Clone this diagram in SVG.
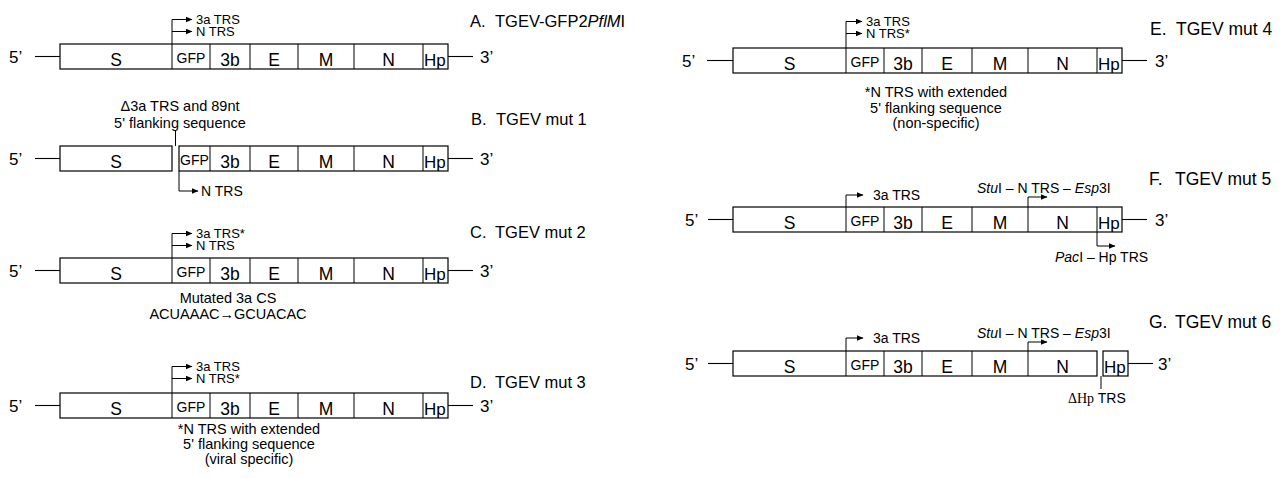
<svg xmlns="http://www.w3.org/2000/svg" width="1281" height="478" viewBox="0 0 1281 478">
<defs>
<marker id="ah" markerUnits="userSpaceOnUse" markerWidth="7" markerHeight="6" refX="6.5" refY="3" orient="auto">
<path d="M0,0 L7,3 L0,6 z" fill="#000"/>
</marker>
<style>
.box{fill:none;stroke:#000;stroke-width:1.2}
.dv{stroke:#000;stroke-width:1}
.ln{stroke:#000;stroke-width:1.1}
.t{font-family:"Liberation Sans",Arial,Helvetica,sans-serif;fill:#000}
.lb{font-size:17.5px;text-anchor:middle}
.gf{font-size:14px;text-anchor:middle}
.hp{font-size:17px}
.en{font-size:17px}
.sm{font-size:14px}
.st{font-size:13px}
.fn{font-size:14.5px}
.mid{text-anchor:middle}
.ttl{font-size:16.5px}
.ttr{font-size:17.5px}
.arr{fill:none;stroke:#000;stroke-width:1;marker-end:url(#ah)}
.it{font-style:italic}
.sf{font-family:"Liberation Serif","Times New Roman",serif}
</style>
</defs>
<rect width="1281" height="478" fill="#fff"/>

<!-- Panel A -->
<g id="panelA">
<text class="t en" x="9" y="63">5’</text>
<line class="ln" x1="35" y1="56.5" x2="60" y2="56.5"/>
<rect class="box" x="60" y="44" width="388" height="25"/>
<path class="dv" d="M172,44V69M210,44V69M250,44V69M298,44V69M354,44V69M423,44V69"/>
<text class="t lb" x="116" y="66">S</text>
<text class="t gf" x="191" y="63">GFP</text>
<text class="t lb" x="230" y="66">3b</text>
<text class="t lb" x="274" y="66">E</text>
<text class="t lb" x="326" y="66">M</text>
<text class="t lb" x="388.5" y="66">N</text>
<text class="t hp" x="424" y="66">Hp</text>
<line class="ln" x1="448" y1="56.5" x2="473" y2="56.5"/>
<text class="t en" x="480" y="63">3’</text>
<text class="t ttl" x="470" y="27">A.<tspan x="495">TGEV-GFP2</tspan><tspan class="it">PflM</tspan>I</text>
<text class="t st" x="196" y="24">3a TRS</text>
<text class="t st" x="196" y="36">N TRS</text>
</g>

<!-- Panel B -->
<g id="panelB">
<text class="t en" x="9" y="165">5’</text>
<line class="ln" x1="35" y1="158.5" x2="60" y2="158.5"/>
<rect class="box" x="60" y="146" width="112" height="25"/>
<rect class="box" x="179" y="146" width="269" height="25"/>
<path class="dv" d="M210,146V171M250,146V171M298,146V171M354,146V171M423,146V171"/>
<text class="t lb" x="116" y="168">S</text>
<text class="t gf" x="194.5" y="165">GFP</text>
<text class="t lb" x="230" y="168">3b</text>
<text class="t lb" x="274" y="168">E</text>
<text class="t lb" x="326" y="168">M</text>
<text class="t lb" x="388.5" y="168">N</text>
<text class="t hp" x="424" y="168">Hp</text>
<line class="ln" x1="448" y1="158.5" x2="473" y2="158.5"/>
<text class="t en" x="480" y="165">3’</text>
<text class="t ttl" x="471" y="125">B.<tspan x="496">TGEV mut 1</tspan></text>
<text class="t fn mid" x="180" y="111">Δ3a TRS and 89nt</text>
<text class="t fn mid" x="180" y="128">5' flanking sequence</text>
<line class="dv" x1="175.5" y1="131" x2="175.5" y2="146"/>
<text class="t sm" x="201" y="196">N TRS</text>
</g>

<!-- Panel C -->
<g id="panelC">
<text class="t en" x="9" y="277">5’</text>
<line class="ln" x1="35" y1="270.5" x2="60" y2="270.5"/>
<rect class="box" x="60" y="258" width="388" height="25"/>
<path class="dv" d="M172,258V283M210,258V283M250,258V283M298,258V283M354,258V283M423,258V283"/>
<text class="t lb" x="116" y="280">S</text>
<text class="t gf" x="191" y="277">GFP</text>
<text class="t lb" x="230" y="280">3b</text>
<text class="t lb" x="274" y="280">E</text>
<text class="t lb" x="326" y="280">M</text>
<text class="t lb" x="388.5" y="280">N</text>
<text class="t hp" x="424" y="280">Hp</text>
<line class="ln" x1="448" y1="270.5" x2="473" y2="270.5"/>
<text class="t en" x="480" y="277">3’</text>
<text class="t ttl" x="470" y="238">C.<tspan x="495">TGEV mut 2</tspan></text>
<text class="t st" x="196" y="238">3a TRS*</text>
<text class="t st" x="196" y="250">N TRS</text>
<text class="t fn mid" x="228" y="303">Mutated 3a CS</text>
<text class="t fn mid" x="228" y="319">ACUAAAC→GCUACAC</text>
</g>

<!-- Panel D -->
<g id="panelD">
<text class="t en" x="9" y="412">5’</text>
<line class="ln" x1="35" y1="405.5" x2="60" y2="405.5"/>
<rect class="box" x="60" y="393" width="388" height="25"/>
<path class="dv" d="M172,393V418M210,393V418M250,393V418M298,393V418M354,393V418M423,393V418"/>
<text class="t lb" x="116" y="415">S</text>
<text class="t gf" x="191" y="412">GFP</text>
<text class="t lb" x="230" y="415">3b</text>
<text class="t lb" x="274" y="415">E</text>
<text class="t lb" x="326" y="415">M</text>
<text class="t lb" x="388.5" y="415">N</text>
<text class="t hp" x="424" y="415">Hp</text>
<line class="ln" x1="448" y1="405.5" x2="473" y2="405.5"/>
<text class="t en" x="480" y="412">3’</text>
<text class="t ttl" x="470" y="388">D.<tspan x="495">TGEV mut 3</tspan></text>
<text class="t st" x="196" y="371">3a TRS</text>
<text class="t st" x="196" y="383">N TRS*</text>
<text class="t fn mid" x="249" y="434">*N TRS with extended</text>
<text class="t fn mid" x="249" y="449">5' flanking sequence</text>
<text class="t fn mid" x="249" y="464">(viral specific)</text>
</g>

<!-- Panel E -->
<g id="panelE">
<text class="t en" x="682" y="67">5’</text>
<line class="ln" x1="707" y1="60.5" x2="733" y2="60.5"/>
<rect class="box" x="733" y="48" width="389" height="25"/>
<path class="dv" d="M846,48V73M884,48V73M922,48V73M972,48V73M1028,48V73M1097,48V73"/>
<text class="t lb" x="789.5" y="70">S</text>
<text class="t gf" x="865" y="67">GFP</text>
<text class="t lb" x="903" y="70">3b</text>
<text class="t lb" x="947" y="70">E</text>
<text class="t lb" x="1000" y="70">M</text>
<text class="t lb" x="1062.5" y="70">N</text>
<text class="t hp" x="1098" y="70">Hp</text>
<line class="ln" x1="1122" y1="60.5" x2="1147" y2="60.5"/>
<text class="t en" x="1155" y="67">3’</text>
<text class="t ttr" x="1150" y="35">E.<tspan x="1176">TGEV mut 4</tspan></text>
<text class="t st" x="866" y="26">3a TRS</text>
<text class="t st" x="866" y="38">N TRS*</text>
<text class="t fn mid" x="936" y="97">*N TRS with extended</text>
<text class="t fn mid" x="936" y="113">5' flanking sequence</text>
<text class="t fn mid" x="936" y="128">(non-specific)</text>
</g>

<!-- Panel F -->
<g id="panelF">
<text class="t en" x="685" y="226">5’</text>
<line class="ln" x1="708" y1="219.5" x2="733" y2="219.5"/>
<rect class="box" x="733" y="207" width="389" height="25"/>
<path class="dv" d="M846,207V232M884,207V232M922,207V232M972,207V232M1028,207V232M1097,207V232"/>
<text class="t lb" x="789.5" y="229">S</text>
<text class="t gf" x="865" y="226">GFP</text>
<text class="t lb" x="903" y="229">3b</text>
<text class="t lb" x="947" y="229">E</text>
<text class="t lb" x="1000" y="229">M</text>
<text class="t lb" x="1062.5" y="229">N</text>
<text class="t hp" x="1098" y="229">Hp</text>
<line class="ln" x1="1122" y1="219.5" x2="1147" y2="219.5"/>
<text class="t en" x="1155" y="226">3’</text>
<text class="t ttr" x="1149" y="185">F.<tspan x="1175">TGEV mut 5</tspan></text>
<text class="t sm" x="873" y="200">3a TRS</text>
<text class="t sm" x="977" y="193"><tspan class="it">Stu</tspan>I – N TRS – <tspan class="it">Esp</tspan>3I</text>
<text class="t sm" x="1055" y="262"><tspan class="it">Pac</tspan>I – Hp TRS</text>
</g>

<!-- Panel G -->
<g id="panelG">
<text class="t en" x="685" y="370">5’</text>
<line class="ln" x1="708" y1="363.5" x2="733" y2="363.5"/>
<rect class="box" x="733" y="351" width="364" height="25"/>
<rect class="box" x="1103" y="351" width="25" height="25"/>
<path class="dv" d="M846,351V376M884,351V376M922,351V376M972,351V376M1028,351V376"/>
<text class="t lb" x="789.5" y="373">S</text>
<text class="t gf" x="865" y="370">GFP</text>
<text class="t lb" x="903" y="373">3b</text>
<text class="t lb" x="947" y="373">E</text>
<text class="t lb" x="1000" y="373">M</text>
<text class="t lb" x="1062.5" y="373">N</text>
<text class="t hp" x="1104" y="373">Hp</text>
<line class="ln" x1="1128" y1="363.5" x2="1153" y2="363.5"/>
<text class="t en" x="1158" y="370">3’</text>
<text class="t ttr" x="1149" y="328">G.<tspan x="1175">TGEV mut 6</tspan></text>
<text class="t sm" x="873" y="343">3a TRS</text>
<text class="t sm" x="977" y="338"><tspan class="it">Stu</tspan>I – N TRS – <tspan class="it">Esp</tspan>3I</text>
<line class="dv" x1="1101" y1="376" x2="1101" y2="389"/>
<text class="t sm" x="1068" y="403"><tspan class="sf">ΔHp</tspan> TRS</text>
</g>

<!-- Connectors: TRS arrows -->
<g id="connectors">
<path class="arr" d="M172,44V19.5H192"/>
<path class="arr" d="M172,31.5H192"/>
<path class="arr" d="M179,171V191H198"/>
<path class="arr" d="M172,258V233.5H192"/>
<path class="arr" d="M172,245.5H192"/>
<path class="arr" d="M172,393V366.5H192"/>
<path class="arr" d="M172,378.5H192"/>
<path class="arr" d="M846,48V21.5H862"/>
<path class="arr" d="M846,33.5H862"/>
<path class="arr" d="M846,207V195H863"/>
<path class="arr" d="M1028,207V197H1047"/>
<path class="arr" d="M1097,232V246H1115"/>
<path class="arr" d="M846,351V338H863"/>
<path class="arr" d="M1028,351V342H1047"/>
</g>
</svg>
